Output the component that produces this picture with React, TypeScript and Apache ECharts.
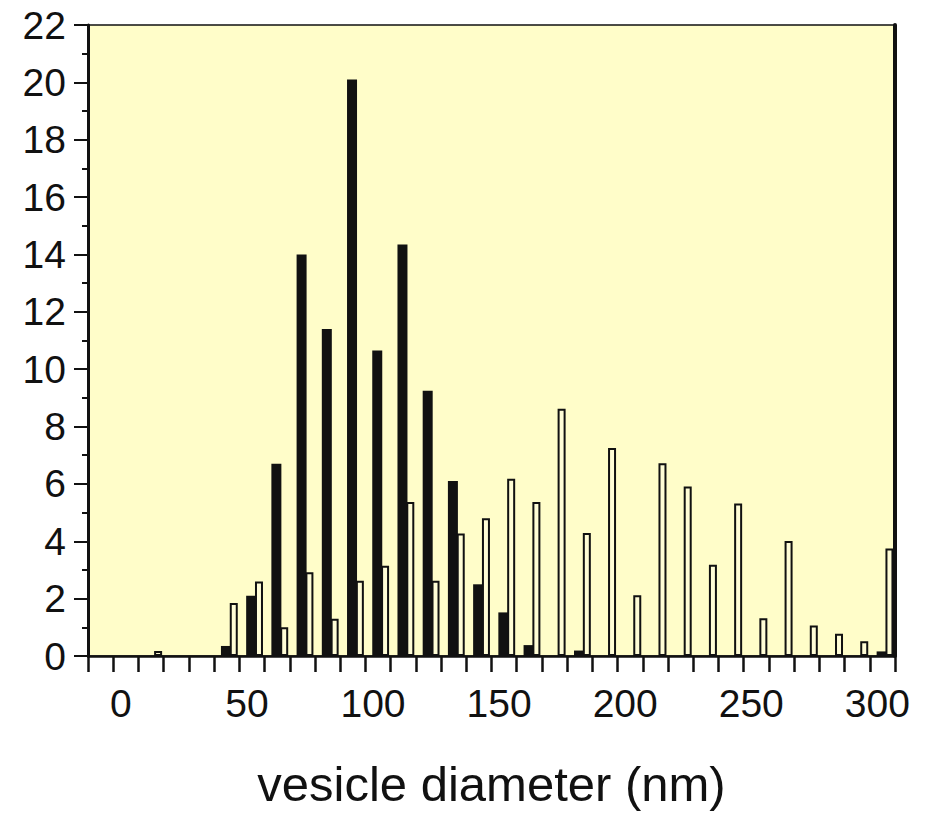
import React, { useEffect, useRef } from "react";
import * as echarts from "echarts";

// bin lower values (nm)
const bins = [0, 10, 20, 30, 40, 50, 60, 70, 80, 90, 100, 110, 120, 130, 140, 150, 160, 170, 180, 190, 200, 210, 220, 230, 240, 250, 260, 270, 280, 290, 300];
// black (filled) bars
const blackValues = [0, 0, 0, 0, 0.35, 2.1, 6.7, 14.0, 11.4, 20.1, 10.65, 14.35, 9.25, 6.1, 2.5, 1.52, 0.38, 0, 0.19, 0, 0, 0, 0, 0, 0, 0, 0, 0, 0, 0, 0.16];
// white (open) bars
const whiteValues = [0, 0.17, 0, 0, 1.85, 2.6, 1.0, 2.92, 1.3, 2.62, 3.15, 5.37, 2.62, 4.27, 4.8, 6.18, 5.37, 8.62, 4.29, 7.25, 2.12, 6.72, 5.91, 3.18, 5.32, 1.32, 4.01, 1.06, 0.78, 0.51, 3.75];
// axis ticks / labels
const xLabelValues = [0, 50, 100, 150, 200, 250, 300];
const xTickValues = [-13, -3, 7, 17, 27, 37, 47, 57, 67, 77, 87, 97, 107, 117, 127, 137, 147, 157, 167, 177, 187, 197, 207, 217, 227, 237, 247, 257, 267, 277, 287, 297, 307];
const xAxisName = "vesicle diameter (nm)";

const FONT = "'Liberation Sans', Arial, Helvetica, sans-serif";

export default function App() {
  const ref = useRef<HTMLDivElement>(null);
  useEffect(() => {
    document.body.style.margin = "0";
    if (!ref.current) return;
    const chart = echarts.init(ref.current, null, { renderer: "svg" });
    const BLACK_OFFSET = 1.3;
    const WHITE_OFFSET = 4.8;
    const toData = (vals: number[], off: number) =>
      bins.map((b, i) => [b + off, vals[i] === 0 ? "-" : vals[i]]);
    chart.setOption({
      animation: false,
      backgroundColor: "#ffffff",
      grid: {
        left: 88,
        right: 31,
        top: 25,
        bottom: 155,
        show: true,
        backgroundColor: "#FFFDC9",
        borderColor: "#111",
        borderWidth: 1.5,
      },
      xAxis: {
        type: "value",
        min: -13,
        max: 307,
        name: xAxisName,
        nameLocation: "middle",
        nameGap: 103,
        nameTextStyle: { fontFamily: FONT, fontSize: 49, color: "#111" },
        axisLine: { show: true, onZero: false, lineStyle: { color: "#111", width: 2.5 } },
        axisTick: {
          show: true,
          customValues: xTickValues,
          length: 16,
          inside: false,
          lineStyle: { color: "#111", width: 2.5 },
        },
        axisLabel: {
          customValues: xLabelValues,
          margin: 28,
          fontFamily: FONT,
          fontSize: 39,
          color: "#111",
        },
        splitLine: { show: false },
      },
      yAxis: [
        {
          type: "value",
          min: 0,
          max: 22,
          interval: 2,
          axisLine: { show: true, onZero: false, lineStyle: { color: "#111", width: 3 } },
          axisTick: { show: true, length: 14, inside: false, lineStyle: { color: "#111", width: 2 } },
          minorTick: { show: true, splitNumber: 2, length: 6, lineStyle: { color: "#111", width: 2 } },
          axisLabel: { margin: 22, fontFamily: FONT, fontSize: 39, color: "#111" },
          splitLine: { show: false },
        },
        {
          type: "value",
          min: 0,
          max: 22,
          interval: 2,
          position: "right",
          axisLine: { show: true, onZero: false, lineStyle: { color: "#111", width: 4 } },
          axisTick: { show: false },
          axisLabel: { show: false },
          splitLine: { show: false },
        },
      ],
      series: [
        {
          type: "bar",
          data: toData(blackValues, BLACK_OFFSET),
          barWidth: 10,
          itemStyle: { color: "#111" },
        },
        {
          type: "bar",
          data: toData(whiteValues, WHITE_OFFSET),
          barWidth: 8,
          barGap: "-100%",
          itemStyle: { color: "#FFFDD6", borderColor: "#111", borderWidth: 2 },
        },
      ],
    });
    return () => chart.dispose();
  }, []);
  return <div ref={ref} style={{ width: 926, height: 813 }} />;
}
